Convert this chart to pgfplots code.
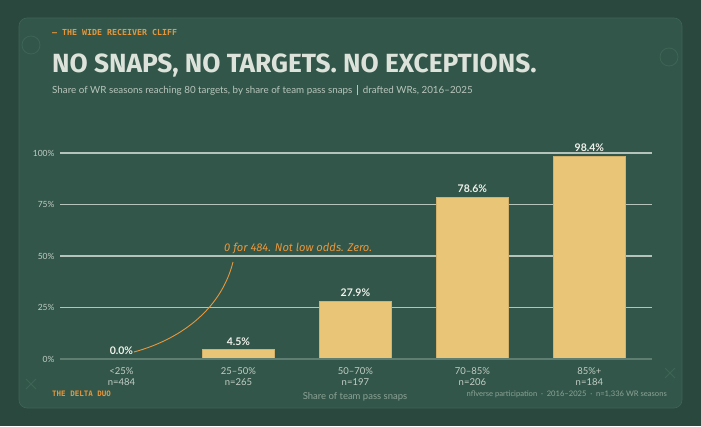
\documentclass[border=0pt]{standalone}
\usepackage{pgfplots}
\pgfplotsset{compat=1.18}
\usepackage{fontspec}
\setmainfont{Lato}
\newfontfamily\monof{DejaVu Sans Mono}
\newfontfamily\titlef{Fira Sans}
\newfontfamily\handf{Fira Sans}
\definecolor{bgout}{HTML}{2A483E}
\definecolor{panel}{HTML}{32574A}
\definecolor{panelline}{HTML}{3E6456}
\definecolor{barfill}{HTML}{E8C577}
\definecolor{baredge}{HTML}{D4B16A}
\definecolor{gridc}{HTML}{B6C3BA}
\definecolor{basec}{HTML}{5E7E71}
\definecolor{orangec}{HTML}{E8963C}
\definecolor{titlec}{HTML}{DDE2DA}
\definecolor{subc}{HTML}{B9C5BD}
\definecolor{tickc}{HTML}{C2CCC5}
\definecolor{valc}{HTML}{F0F2EC}
\definecolor{mutec}{HTML}{8CA296}
\begin{document}
\begin{tikzpicture}
\begin{scope}[x=1pt,y=1pt]
\fill[bgout] (0,0) rectangle (701,426);
\fill[panel, rounded corners=8pt] (19,18) rectangle (682,408);
\draw[panelline, line width=0.6pt, rounded corners=8pt] (19,18) rectangle (682,408);
% decorations
\draw[panelline, line width=0.8pt] (31,381) circle (9);
\draw[panelline, line width=0.8pt] (669,369) circle (9);
\draw[panelline, line width=0.8pt] (26,37)--(36,47) (26,47)--(36,37);
\draw[panelline, line width=0.8pt] (665,48)--(675,58) (665,58)--(675,48);
% header
\node[anchor=base west, inner sep=0, text=orangec, font=\monof\bfseries\fontsize{8.3}{9}\selectfont] at (52,390) {— THE WIDE RECEIVER CLIFF};
\node[anchor=base west, inner sep=0, text=titlec, font=\titlef\bfseries\fontsize{26.3}{28}\selectfont] at (52,353) {NO SNAPS, NO TARGETS. NO EXCEPTIONS.};
\node[anchor=base west, inner sep=0, text=subc, font=\fontsize{9.8}{10}\selectfont] at (52,332) {Share of WR seasons reaching 80 targets, by share of team pass snaps\enspace\textcolor{subc}{\rule[-1.5pt]{0.6pt}{10pt}}\enspace drafted WRs, 2016–2025};
\end{scope}
% axis
\begin{axis}[
  at={(60pt,67pt)}, anchor=south west,
  scale only axis, width=592pt, height=206pt,
  xmin=-0.525, xmax=4.535, ymin=0, ymax=100,
  axis line style={draw=none},
  major tick length=0pt,
  ytick={0,25,50,75,100},
  yticklabels={0\%,25\%,50\%,75\%,100\%},
  yticklabel style={text=tickc, font=\fontsize{8.5}{9}\selectfont, anchor=east, xshift=-2pt},
  xtick={0,1,2,3,4},
  xticklabels={{<25\%\\n=484},{25–50\%\\n=265},{50–70\%\\n=197},{70–85\%\\n=206},{85\%+\\n=184}},
  xticklabel style={text=tickc, font=\fontsize{9.5}{11}\selectfont, align=center, anchor=north, yshift=-5pt},
  ymajorgrids, grid style={gridc, line width=1.1pt},
  clip=false,
  /pgf/number format/assume math mode=true,
]
\addplot[ybar, bar width=72pt, fill=barfill, draw=baredge, line width=0.6pt,
  nodes near coords={\pgfmathprintnumber[fixed,fixed zerofill,precision=1]{\pgfplotspointmeta}\%},
  nodes near coords style={text=valc, font=\bfseries\fontsize{10.5}{11}\selectfont, anchor=south, yshift=1pt},
  point meta=y]
  coordinates {(0,0.0) (1,4.5) (2,27.9) (3,78.6) (4,98.4)};
\draw[basec, line width=1.5pt] (axis cs:-0.525,0) -- (axis cs:4.535,0);
\end{axis}
\begin{scope}[x=1pt,y=1pt]
% annotation
\draw[orangec, line width=0.9pt] (134,74) .. controls (185,88) and (222,120) .. (233,164);
\node[anchor=base west, inner sep=0, text=orangec, font=\handf\itshape\fontsize{11.2}{12}\selectfont] at (224,174) {0 for 484. Not low odds. Zero.};
% footer
\node[anchor=base west, inner sep=0, text=orangec, font=\monof\bfseries\fontsize{7.5}{8}\selectfont] at (52,30) {THE DELTA DUO};
\node[anchor=base, inner sep=0, text=mutec, font=\fontsize{9.5}{10}\selectfont] at (355,27) {Share of team pass snaps};
\node[anchor=base east, inner sep=0, text=mutec, font=\fontsize{7.6}{8}\selectfont] at (667,30) {nflverse participation\enspace·\enspace 2016–2025\enspace·\enspace n=1,336 WR seasons};
\end{scope}
\end{tikzpicture}
\end{document}
